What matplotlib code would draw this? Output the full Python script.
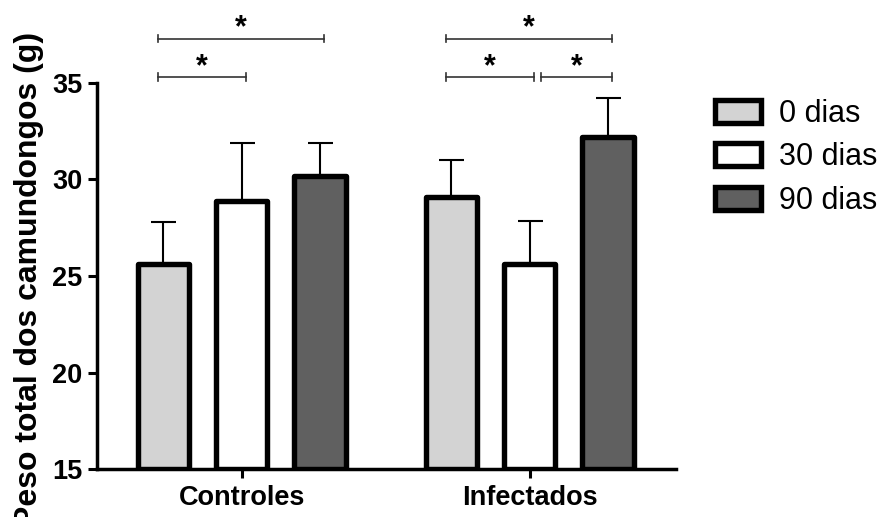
import numpy as np
import matplotlib
matplotlib.use("Agg")
import matplotlib.pyplot as plt

plt.rcParams['font.family'] = ['Liberation Sans', 'DejaVu Sans']

# data
groups = ["Controles", "Infectados"]
series = ["0 dias", "30 dias", "90 dias"]
means = {"0 dias": [25.6, 29.1],
         "30 dias": [28.9, 25.6],
         "90 dias": [30.2, 32.2]}
upper = {"0 dias": [27.8, 31.0],
         "30 dias": [31.9, 27.85],
         "90 dias": [31.9, 34.2]}
colors = {"0 dias": "#d3d3d3", "30 dias": "#ffffff", "90 dias": "#606060"}
# significance brackets: (group, first series, second series, level)
brackets = [(0, 0, 1, 0), (0, 0, 2, 1),
            (1, 0, 1, 0), (1, 1, 2, 0), (1, 0, 2, 1)]
bracket_y = [35.3, 37.3]

fig = plt.figure(figsize=(8.81, 5.17), dpi=100)
ax = fig.add_axes([0.110, 0.0928, 0.657, 0.7467])

x = np.arange(len(groups))
pitch = 0.272
width = 0.178
for i, s in enumerate(series):
    xs = x + (i - 1) * pitch
    err = np.array(upper[s]) - np.array(means[s])
    ax.errorbar(xs, means[s], yerr=[np.zeros(len(xs)), err], fmt='none',
                ecolor='black', elinewidth=1.5, capsize=9, capthick=1.5, zorder=2)
    ax.bar(xs, np.array(means[s]) - 15, width, bottom=15, color=colors[s],
           edgecolor='black', linewidth=3.9, joinstyle='round', label=s, zorder=3)

# brackets with asterisks
for g, a, b, lev in brackets:
    x1 = x[g] + (a - 1) * pitch - 0.02
    x2 = x[g] + (b - 1) * pitch + 0.015
    if lev == 0 and a == 1:
        x1 += 0.06
    y = bracket_y[lev]
    ax.plot([x1, x2], [y, y], color='#333333', lw=1.2, clip_on=False)
    for xe in (x1, x2):
        ax.plot([xe, xe], [y - 0.2, y + 0.2], color='#333333', lw=1.2, clip_on=False)
    ax.text((x1 + x2) / 2, y - 0.25, "*", ha='center', va='bottom',
            fontsize=22, fontweight='bold', clip_on=False)

ax.set_xlim(-0.503, 1.507)
ax.set_ylim(15, 35)
ax.set_yticks([15, 20, 25, 30, 35])
ax.set_xticks(x)
ax.set_xticklabels(groups)
for sp in ['top', 'right']:
    ax.spines[sp].set_visible(False)
for sp in ['left', 'bottom']:
    ax.spines[sp].set_linewidth(2.5)
ax.tick_params(axis='both', direction='out', length=6.5, width=2.2, pad=4,
               labelsize=19.5)
ax.tick_params(axis='x', pad=5)
for lab in ax.get_xticklabels() + ax.get_yticklabels():
    lab.set_fontweight('bold')

ax.set_ylabel("Peso total dos camundongos (g)", fontsize=23, fontweight='bold')
ax.yaxis.set_label_coords(-0.092, 0.49)

leg = ax.legend(loc='upper left', bbox_to_anchor=(0.794, 0.838),
                bbox_transform=fig.transFigure, frameon=False, fontsize=22,
                handlelength=1.5, handleheight=0.78, handletextpad=0.6,
                labelspacing=0.44, borderpad=0)

fig.savefig("out.png", dpi=100)
